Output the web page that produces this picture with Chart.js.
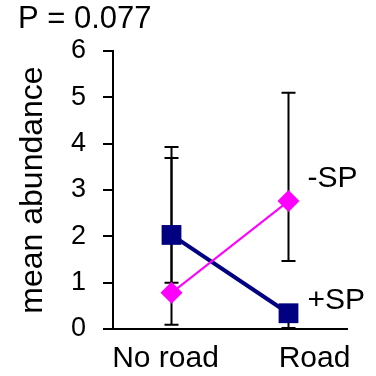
<!DOCTYPE html>
<html>
<head>
<meta charset="utf-8">
<script src="https://cdn.jsdelivr.net/npm/chart.js@4.4.0/dist/chart.umd.min.js"></script>
<style>
  html, body { margin: 0; padding: 0; background: #fff; }
</style>
</head>
<body>
<canvas id="chart" width="376" height="376"></canvas>
<script>
const categories = ['No road', 'Road'];
const plusSP = [2.03, 0.34];
const plusSPLow = [1.0, 0.02];
const plusSPHigh = [3.69, 0.5];
const minusSP = [0.78, 2.76];
const minusSPLow = [0.09, 1.47];
const minusSPHigh = [3.93, 5.10];
const yTicks = [0, 1, 2, 3, 4, 5, 6];

const FONT = '"Liberation Sans", Arial, sans-serif';
const errLow = [plusSPLow, minusSPLow];
const errHigh = [plusSPHigh, minusSPHigh];

// error bars drawn under the markers
const errorBars = {
    id: 'errorBars',
    beforeDatasetsDraw(chart) {
        const ctx = chart.ctx;
        const xs = chart.scales.x;
        const ys = chart.scales.y;
        ctx.save();
        ctx.strokeStyle = '#000';
        ctx.lineWidth = 2;
        for (let d = 0; d < errLow.length; d++) {
            for (let i = 0; i < categories.length; i++) {
                const x = xs.getPixelForValue(i);
                const y1 = ys.getPixelForValue(errLow[d][i]);
                const y2 = ys.getPixelForValue(errHigh[d][i]);
                ctx.beginPath();
                ctx.moveTo(x, y1);
                ctx.lineTo(x, y2);
                ctx.moveTo(x - 7, y1);
                ctx.lineTo(x + 7, y1);
                ctx.moveTo(x - 7, y2);
                ctx.lineTo(x + 7, y2);
                ctx.stroke();
            }
        }
        ctx.restore();
    }
};

// texts around the plot
const labels = {
    id: 'labels',
    afterDraw(chart) {
        const ctx = chart.ctx;
        const xs = chart.scales.x;
        const ys = chart.scales.y;
        ctx.save();
        ctx.fillStyle = '#000';
        ctx.textBaseline = 'middle';
        ctx.textAlign = 'left';
        ctx.font = '31px ' + FONT;
        ctx.fillText('P = 0.077', 18, 19);

        ctx.font = '30px ' + FONT;
        const xr = xs.getPixelForValue(1);
        ctx.fillText('-SP', xr + 19, ys.getPixelForValue(minusSP[1]) - 22);
        ctx.fillText('+SP', xr + 19, ys.getPixelForValue(plusSP[1]) - 13);

        ctx.textAlign = 'center';
        const nudge = [-6, 26];
        categories.forEach((c, i) => {
            ctx.fillText(c, xs.getPixelForValue(i) + nudge[i], 359);
        });
        ctx.restore();
    }
};

new Chart(document.getElementById('chart'), {
    type: 'line',
    data: {
        labels: categories,
        datasets: [
            {
                label: '+SP',
                data: plusSP,
                borderColor: '#000080',
                backgroundColor: '#000080',
                borderWidth: 4,
                pointStyle: 'rect',
                pointRadius: 14,
                pointBorderWidth: 0,
                order: 2
            },
            {
                label: '-SP',
                data: minusSP,
                borderColor: '#ff00ff',
                backgroundColor: '#ff00ff',
                borderWidth: 2,
                pointStyle: 'rectRot',
                pointRadius: 11,
                pointBorderWidth: 0,
                order: 1
            }
        ]
    },
    options: {
        responsive: false,
        animation: false,
        layout: { padding: { left: 8, top: 51, right: 29, bottom: 0 } },
        plugins: { legend: { display: false }, tooltip: { enabled: false } },
        scales: {
            x: {
                offset: true,
                grid: { display: false },
                border: { display: true, color: '#000', width: 2 },
                ticks: { display: false },
                afterFit(scale) { scale.height = 47; }
            },
            y: {
                min: 0,
                max: 6,
                afterBuildTicks(scale) { scale.ticks = yTicks.map(v => ({ value: v })); },
                grid: { drawOnChartArea: false, color: '#000', lineWidth: 2, tickLength: 10 },
                border: { color: '#000', width: 2 },
                ticks: { color: '#000', padding: 17, font: { family: FONT, size: 27 } },
                title: {
                    display: true,
                    text: 'mean abundance',
                    color: '#000',
                    font: { family: FONT, size: 32 },
                    padding: { top: 6, bottom: 0 }
                },
                afterFit(scale) { scale.width = 105; }
            }
        }
    },
    plugins: [errorBars, labels]
});
</script>
</body>
</html>
